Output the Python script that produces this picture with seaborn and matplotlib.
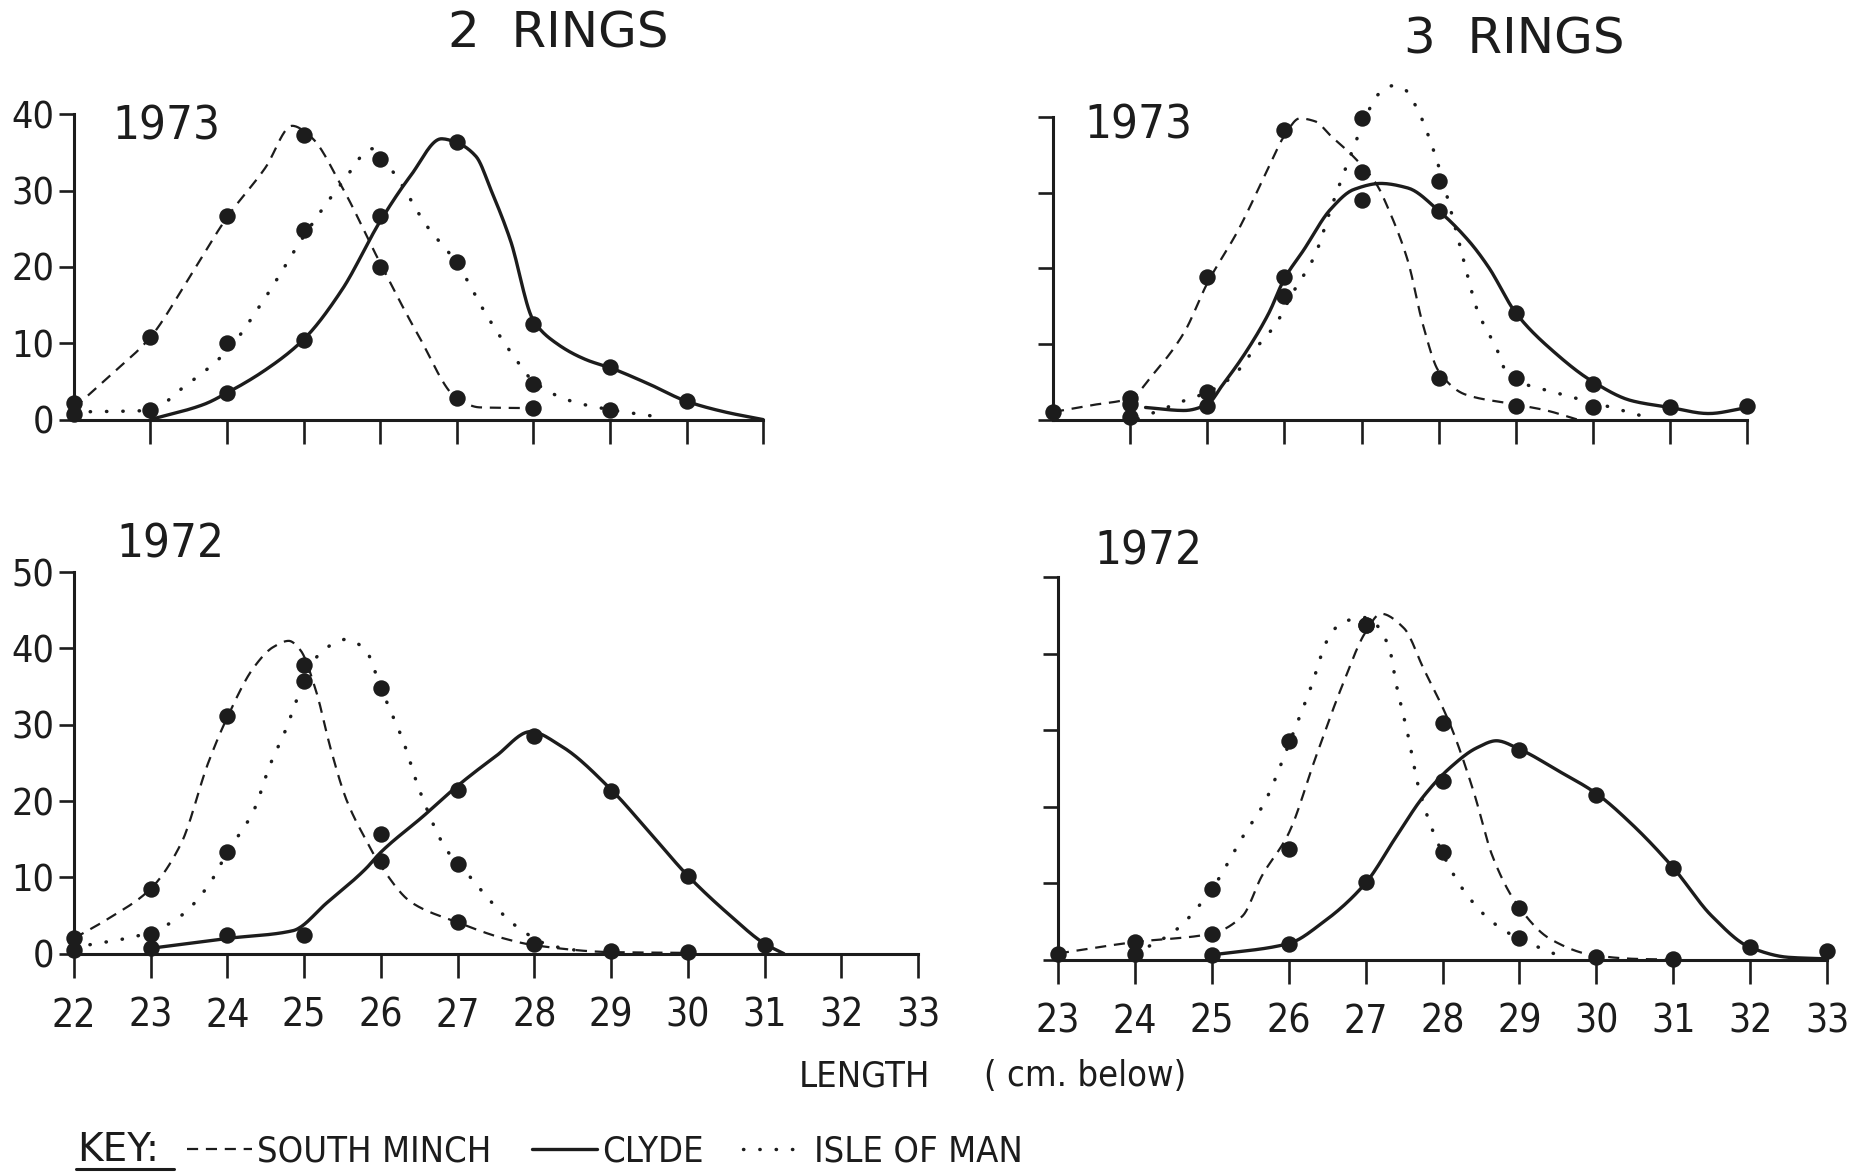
import numpy as np
import pandas as pd
import seaborn as sns

import matplotlib as mpl
import matplotlib.pyplot as plt
from matplotlib.lines import Line2D

# === DATA ===
# panel A : 2 rings, 1973
len_a = [22, 23, 24, 25, 26, 27, 28, 29, 30, 31]
minch_a = [2.2, 10.8, 26.7, 37.3, 20.0, 2.8, 1.5, np.nan, np.nan, np.nan]
clyde_a = [np.nan, np.nan, 3.5, 10.4, 26.7, 36.4, 12.5, 6.9, 2.4, np.nan]
man_a = [0.7, 1.2, 10.0, 24.8, 34.2, 20.7, 4.6, 1.3, np.nan, np.nan]
# hand-drawn curves: (length, number) knots
minch_a_curve = [(22, 1.5), (22.5, 6), (23, 10.8), (23.5, 18.5), (24, 26.5), (24.5, 33),
                 (24.85, 38.5), (25.1, 37), (25.5, 30.5), (26, 20.5), (26.5, 11), (27, 2.8),
                 (27.3, 1.6), (28, 1.5)]
clyde_a_curve = [(23, 0), (23.7, 2), (24, 3.5), (24.5, 6.5), (25, 10.5), (25.5, 17), (26, 26),
                 (26.4, 32), (26.8, 36.8), (27, 36.3), (27.25, 34.5), (27.45, 30), (27.7, 23.5),
                 (28, 13), (28.3, 10), (28.7, 7.8), (29, 6.8), (29.5, 4.7), (30, 2.4),
                 (30.5, 1), (31, 0)]
man_a_curve = [(22, 1.0), (23, 1.2), (23.4, 4), (24, 9), (24.5, 16), (25, 24), (25.5, 31),
               (25.9, 35.5), (26.2, 32), (26.6, 25.5), (27, 20.5), (27.4, 13.5), (27.8, 7.5),
               (28, 5), (28.5, 2.4), (29, 1.3), (29.6, 0.4)]

# panel B : 3 rings, 1973
len_b = [23, 24, 25, 26, 27, 28, 29, 30, 31, 32]
minch_b = [1.0, 2.9, 18.9, 38.2, 32.7, 5.5, 1.8, np.nan, np.nan, np.nan]
clyde_b = [np.nan, 2.0, 1.8, 18.8, 29.0, 27.6, 14.1, 4.7, 1.6, 1.8]
man_b = [np.nan, 0.3, 3.6, 16.3, 39.8, 31.5, 5.5, 1.7, np.nan, np.nan]
minch_b_curve = [(23, 1.0), (23.5, 1.9), (24, 2.8), (24.3, 6), (24.7, 11.5), (25, 18),
                 (25.4, 25), (25.8, 33.4), (26, 37.5), (26.2, 39.8), (26.4, 39.4), (26.6, 37.5),
                 (26.9, 34.7), (27.2, 31), (27.35, 27.8), (27.6, 21), (27.8, 12.4), (28, 6.4),
                 (28.35, 3.3), (29, 2.0), (29.4, 1.2), (29.8, 0)]
clyde_b_curve = [(24.2, 1.6), (24.7, 1.2), (25, 2), (25.2, 4.6), (25.5, 8.9), (25.8, 14.1),
                 (26, 18.6), (26.25, 22.4), (26.6, 27.8), (26.9, 30.4), (27.25, 31.2),
                 (27.6, 30.6), (28, 27.6), (28.4, 23.5), (28.65, 20.1), (29, 14.1), (29.5, 8.9),
                 (30, 5), (30.5, 2.5), (31, 1.6), (31.5, 0.8), (32, 1.6)]
man_b_curve = [(24.1, 0.1), (24.7, 2.5), (25, 3.6), (25.35, 5.9), (25.55, 8.5), (25.9, 12.8),
               (26.1, 16.6), (26.4, 21.8), (26.6, 27.8), (26.85, 34.7), (27.05, 39.8),
               (27.2, 42.8), (27.4, 44.1), (27.55, 43.7), (27.7, 41.5), (27.95, 35.1),
               (28.05, 31.7), (28.2, 26), (28.35, 20), (28.5, 14.5), (28.75, 9.4), (28.9, 5.9),
               (29.5, 3.6), (30.1, 2), (30.7, 0.3)]

# panel C : 2 rings, 1972
len_c = [22, 23, 24, 25, 26, 27, 28, 29, 30, 31]
minch_c = [2.0, 8.5, 31.1, 37.8, 12.2, 4.1, 1.3, 0.4, 0.2, np.nan]
clyde_c = [np.nan, 0.7, 2.4, 2.4, 15.7, 21.5, 28.5, 21.3, 10.2, 1.1]
man_c = [0.5, 2.6, 13.3, 35.7, 34.8, 11.7, np.nan, np.nan, np.nan, np.nan]
minch_c_curve = [(22, 2.0), (22.45, 4.6), (23, 8.5), (23.4, 14.5), (23.75, 25), (24, 31),
                 (24.35, 37.6), (24.6, 40.2), (24.8, 41), (24.95, 39.8), (25.15, 34.6),
                 (25.35, 26.7), (25.55, 20.2), (25.8, 15), (26, 11.5), (26.4, 6.7), (27, 4.1),
                 (27.6, 2), (28, 1.1), (29, 0.2), (30, 0.1)]
clyde_c_curve = [(23, 0.7), (24, 2), (24.85, 3), (25.3, 6.7), (25.8, 11.1), (26, 13.3),
                 (26.55, 18), (27, 22), (27.5, 25.9), (27.95, 29.1), (28.35, 27.2), (29, 21.5),
                 (29.5, 15.9), (30, 10.2), (30.55, 5), (31, 1.3), (31.25, 0)]
man_c_curve = [(22, 0.8), (23, 2.8), (23.4, 5), (23.75, 8.9), (24, 13.3), (24.35, 18.9),
               (24.55, 24.6), (24.75, 29.1), (25, 35.7), (25.2, 39.3), (25.55, 41.2),
               (25.8, 39.8), (26, 34.8), (26.3, 27.6), (26.5, 21.5), (26.85, 13.7),
               (27.15, 10.2), (27.4, 7.2), (27.75, 3.7), (28.2, 1.1), (28.7, 0.2)]

# panel D : 3 rings, 1972
len_d = [23, 24, 25, 26, 27, 28, 29, 30, 31, 32, 33]
minch_d = [0.8, 2.3, 3.4, 14.4, 43.7, 30.9, 6.8, 0.3, 0.1, np.nan, np.nan]
clyde_d = [np.nan, np.nan, 0.6, 2.1, 10.1, 23.4, 27.4, 21.5, 12.0, 1.6, 1.1]
man_d = [np.nan, 0.8, 9.2, 28.6, 43.7, 14.1, 2.8, np.nan, np.nan, np.nan, np.nan]
minch_d_curve = [(23, 0.8), (24, 2.3), (25, 3.4), (25.4, 5.7), (25.65, 10.9), (26, 16.5),
                 (26.35, 26.4), (26.7, 35.9), (27, 42.8), (27.2, 45.2), (27.5, 43.3),
                 (27.75, 38.1), (28.1, 30.7), (28.4, 22.1), (28.65, 13.5), (28.95, 7.5),
                 (29.4, 2.7), (29.95, 0.6), (30.5, 0.1), (31, 0)]
clyde_d_curve = [(25, 0.6), (26, 2.1), (26.45, 4.9), (27, 10), (27.4, 16.1), (27.75, 21.3),
                 (28.1, 25.1), (28.45, 27.7), (28.7, 28.6), (29, 27.5), (29.5, 24.7),
                 (30, 21.7), (30.45, 17.8), (31, 12), (31.5, 5.7), (32, 1.6), (32.5, 0.3),
                 (33, 0.1)]
man_d_curve = [(24, 0.8), (24.5, 3.6), (25, 9.2), (25.4, 16), (25.7, 20.8), (26, 28.1),
               (26.3, 35.9), (26.5, 41.7), (26.7, 44.1), (27, 44.7), (27.3, 41), (27.4, 35.9),
               (27.55, 29.4), (27.7, 22.1), (28, 13.9), (28.3, 8.7), (28.65, 4.9), (29, 2.7),
               (29.4, 1), (29.6, 0.1)]

series_names = ['SOUTH MINCH', 'CLYDE', 'ISLE OF MAN']

# === PLOT SETTINGS ===
sns.set_style('ticks')
plt.rcParams['font.family'] = ['DejaVu Sans']
INK = '#1c1c1c'

STYLES = {
    'SOUTH MINCH': dict(linestyle=(0, (5, 3.5)), linewidth=1.6),
    'CLYDE': dict(linestyle='-', linewidth=2.4),
    'ISLE OF MAN': dict(linestyle=(0, (0.1, 4.6)), linewidth=2.5, dash_capstyle='round'),
}


def smooth(knots, n=400):
    # monotone cubic (pchip) through the hand-drawn curve knots
    x = np.array([k[0] for k in knots], float)
    y = np.array([k[1] for k in knots], float)
    h = np.diff(x)
    d = np.diff(y) / h
    m = np.zeros_like(y)
    m[0], m[-1] = d[0], d[-1]
    for k in range(1, len(x) - 1):
        if d[k - 1] * d[k] > 0:
            w1 = 2 * h[k] + h[k - 1]
            w2 = h[k] + 2 * h[k - 1]
            m[k] = (w1 + w2) / (w1 / d[k - 1] + w2 / d[k])
    xs = np.linspace(x[0], x[-1], n)
    i = np.clip(np.searchsorted(x, xs) - 1, 0, len(h) - 1)
    t = (xs - x[i]) / h[i]
    ys = ((2 * t**3 - 3 * t**2 + 1) * y[i] + (t**3 - 2 * t**2 + t) * h[i] * m[i]
          + (-2 * t**3 + 3 * t**2) * y[i + 1] + (t**3 - t**2) * h[i] * m[i + 1])
    return xs, ys


def draw_panel(ax, lengths, dots, curves, xlim, ylim, xticks, show_xlab, show_ylab):
    for name, vals, knots in zip(series_names, dots, curves):
        cx, cy = smooth(knots)
        sns.lineplot(x=cx, y=cy, ax=ax, color=INK, estimator=None, sort=False,
                     clip_on=False, **STYLES[name])
        pts = pd.DataFrame({'length': lengths, 'n': vals}).dropna()
        sns.scatterplot(data=pts, x='length', y='n', ax=ax, color=INK, s=140,
                        linewidth=0, clip_on=False, zorder=4)
    ax.set_xlim(xlim)
    ax.set_ylim(ylim)
    ax.set_xticks(xticks)
    ax.set_yticks(np.arange(0, ylim[1] + 1, 10))
    ax.set_xlabel('')
    ax.set_ylabel('')
    sns.despine(ax=ax)
    for s in ['left', 'bottom']:
        ax.spines[s].set_linewidth(2.2)
        ax.spines[s].set_color(INK)
    ax.tick_params(axis='x', bottom=True, direction='out', length=17, width=1.9, pad=14,
                   labelsize=28, colors=INK, labelbottom=show_xlab)
    ax.tick_params(axis='y', left=True, direction='out', length=11, width=1.9, pad=3,
                   labelsize=27, colors=INK, labelleft=show_ylab)
    for lab in ax.get_xticklabels() + ax.get_yticklabels():
        lab.set_fontstretch('condensed')
    ax.patch.set_alpha(0)


# === FIGURE SETUP ===
fig = plt.figure(figsize=(18.7, 11.73), dpi=100)
ax_a = fig.add_axes([0.0395, 0.6423, 0.3686, 0.2602])
ax_b = fig.add_axes([0.5631, 0.6423, 0.3712, 0.2581])
ax_c = fig.add_axes([0.0395, 0.1870, 0.4515, 0.3252])
ax_d = fig.add_axes([0.5657, 0.1819, 0.4114, 0.3262])

draw_panel(ax_a, len_a, [minch_a, clyde_a, man_a], [minch_a_curve, clyde_a_curve, man_a_curve],
           (22, 31), (0, 40), range(23, 32), False, True)
draw_panel(ax_b, len_b, [minch_b, clyde_b, man_b], [minch_b_curve, clyde_b_curve, man_b_curve],
           (23, 32), (0, 40), range(24, 33), False, False)
draw_panel(ax_c, len_c, [minch_c, clyde_c, man_c], [minch_c_curve, clyde_c_curve, man_c_curve],
           (22, 33), (0, 50), range(22, 34), True, True)
draw_panel(ax_d, len_d, [minch_d, clyde_d, man_d], [minch_d_curve, clyde_d_curve, man_d_curve],
           (23, 33), (0, 50), range(23, 34), True, False)

# === TEXT ===
fig.text(0.2985, 0.9715, '2  RINGS', fontsize=36, ha='center', va='center', color=INK)
fig.text(0.810, 0.9665, '3  RINGS', fontsize=36, ha='center', va='center', color=INK)
for x, y, s in [(0.0600, 0.892, '1973'), (0.5800, 0.893, '1973'),
                (0.0620, 0.5356, '1972'), (0.5850, 0.5295, '1972')]:
    fig.text(x, y, s, fontsize=34, fontstretch='condensed', ha='left', va='center', color=INK)
fig.text(0.4273, 0.0823, 'LENGTH', fontsize=26, fontstretch='condensed',
         ha='left', va='center', color=INK)
fig.text(0.5260, 0.0823, '( cm. below)', fontsize=26, fontstretch='condensed',
         ha='left', va='center', color=INK)

# === KEY ===
fig.text(0.0415, 0.0195, 'KEY:', fontsize=28, ha='left', va='center', color=INK)
fig.add_artist(Line2D([0.0405, 0.0930], [0.0030, 0.0030], transform=fig.transFigure,
                      color=INK, linewidth=2.2))
handles = [Line2D([], [], color=INK, **STYLES[n]) for n in series_names]
fig.legend(handles=handles, labels=series_names, loc='center left',
           bbox_to_anchor=(0.100, 0.0185), ncol=3, frameon=False,
           prop={'size': 26, 'stretch': 'condensed'},
           handlelength=1.8, handletextpad=0.15, columnspacing=1.1,
           borderpad=0, borderaxespad=0, labelcolor=INK)

# === SAVE FIGURE ===
fig.savefig('out.png', dpi=100)
